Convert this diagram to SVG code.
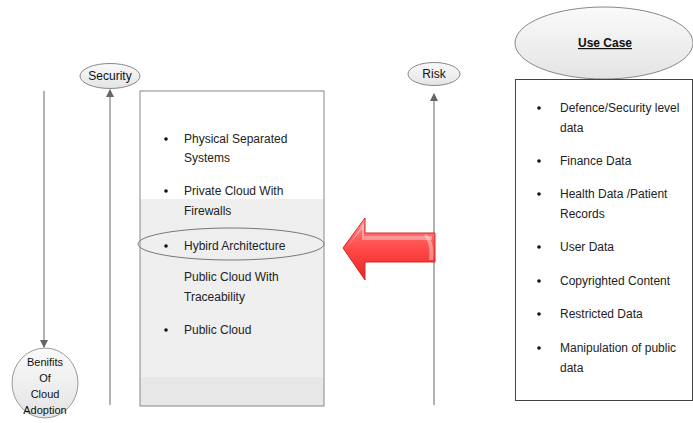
<svg xmlns="http://www.w3.org/2000/svg" width="693" height="423" viewBox="0 0 693 423">
<style>
  .t{font-family:"Liberation Sans",Arial,sans-serif;font-size:12px;fill:#222}
  .lbl{font-family:"Liberation Sans",Arial,sans-serif;font-size:12px;fill:#111;text-anchor:middle}
  .sm{font-size:11px}
  .conn{stroke:#666;stroke-width:1;fill:none}
  .dot{fill:#111}
</style>
<defs>
  <marker id="ah" markerWidth="8" markerHeight="8" refX="7" refY="4" orient="auto" markerUnits="userSpaceOnUse">
    <path d="M0,0 L8,4 L0,8 Z" fill="#666"/>
  </marker>
  <linearGradient id="ovg" x1="0" y1="0" x2="0" y2="1">
    <stop offset="0" stop-color="#fafafa"/>
    <stop offset="1" stop-color="#e4e4e4"/>
  </linearGradient>
  <linearGradient id="red" x1="0" y1="0" x2="0" y2="1">
    <stop offset="0" stop-color="#ff9a9a"/>
    <stop offset="0.35" stop-color="#ff5a5a"/>
    <stop offset="0.55" stop-color="#ff4444"/>
    <stop offset="1" stop-color="#e52626"/>
  </linearGradient>
</defs>

<g id="connectors">
  <line class="conn" x1="44" y1="91" x2="44" y2="347" marker-end="url(#ah)"/>
  <line class="conn" x1="110" y1="405" x2="110" y2="90" marker-end="url(#ah)"/>
  <line class="conn" x1="434" y1="405" x2="434" y2="94" marker-end="url(#ah)"/>
</g>

<g id="security">
  <ellipse cx="110" cy="76" rx="30" ry="12.5" fill="url(#ovg)" stroke="#888"/>
  <text class="lbl" x="110" y="80">Security</text>
</g>

<g id="risk">
  <ellipse cx="434" cy="74" rx="26" ry="11.5" fill="url(#ovg)" stroke="#888"/>
  <text class="lbl" x="434" y="78">Risk</text>
</g>

<g id="benefits">
  <ellipse cx="45" cy="383" rx="33" ry="35" fill="url(#ovg)" stroke="#999"/>
  <text class="lbl sm" x="45" y="366">Benifits</text>
  <text class="lbl sm" x="45" y="382">Of</text>
  <text class="lbl sm" x="45" y="398">Cloud</text>
  <text class="lbl sm" x="45" y="414">Adoption</text>
</g>

<g id="security-levels">
  <rect x="140" y="91" width="184" height="315" fill="#ffffff"/>
  <rect x="140" y="199" width="184" height="178" fill="#efefef"/>
  <rect x="140" y="377" width="184" height="29" fill="#e7e7e7"/>
  <rect x="140" y="91" width="184" height="315" fill="none" stroke="#888"/>
  <circle class="dot" cx="166" cy="139" r="1.8"/>
  <text class="t" x="184" y="143">Physical Separated</text>
  <text class="t" x="184" y="162">Systems</text>
  <circle class="dot" cx="166" cy="191" r="1.8"/>
  <text class="t" x="184" y="195">Private Cloud With</text>
  <text class="t" x="184" y="215">Firewalls</text>
  <circle class="dot" cx="166" cy="246" r="1.8"/>
  <text class="t" x="184" y="250">Hybird Architecture</text>
  <text class="t" x="184" y="281">Public Cloud With</text>
  <text class="t" x="184" y="301">Traceability</text>
  <circle class="dot" cx="166" cy="330" r="1.8"/>
  <text class="t" x="184" y="334">Public Cloud</text>
</g>

<g id="hybrid-highlight">
  <ellipse cx="231" cy="244" rx="93" ry="16" fill="none" stroke="#777"/>
</g>

<g id="red-arrow">
  <path d="M343,248 L365,218 L365,233 L435,233 L435,262 L365,262 L365,280 Z" fill="url(#red)" stroke="#d02a2a" stroke-width="1"/>
  <path d="M347,247 L364,223 L364,236 L432,236 L432,240 L362,240 L362,229 Z" fill="#ffffff" opacity="0.35"/>
  <path d="M426,234 Q435,240 433,260 L429,260 Q431,243 424,236 Z" fill="#ffffff" opacity="0.4"/>
</g>

<g id="use-case">
  <ellipse cx="604" cy="43" rx="89" ry="36" fill="url(#ovg)" stroke="#888"/>
  <text x="605" y="47" text-anchor="middle" font-family="'Liberation Sans',Arial,sans-serif" font-size="12" font-weight="bold" text-decoration="underline" fill="#111">Use Case</text>
</g>

<g id="use-case-list">
  <rect x="515.5" y="79.5" width="177" height="321" fill="#ffffff" stroke="#444"/>
  <circle class="dot" cx="539" cy="108" r="1.8"/>
  <text class="t" x="560" y="112">Defence/Security level</text>
  <text class="t" x="560" y="132">data</text>
  <circle class="dot" cx="539" cy="161" r="1.8"/>
  <text class="t" x="560" y="165">Finance Data</text>
  <circle class="dot" cx="539" cy="194" r="1.8"/>
  <text class="t" x="560" y="198">Health Data /Patient</text>
  <text class="t" x="560" y="218">Records</text>
  <circle class="dot" cx="539" cy="247" r="1.8"/>
  <text class="t" x="560" y="251">User Data</text>
  <circle class="dot" cx="539" cy="281" r="1.8"/>
  <text class="t" x="560" y="285">Copyrighted Content</text>
  <circle class="dot" cx="539" cy="314" r="1.8"/>
  <text class="t" x="560" y="318">Restricted Data</text>
  <circle class="dot" cx="539" cy="348" r="1.8"/>
  <text class="t" x="560" y="352">Manipulation of public</text>
  <text class="t" x="560" y="372">data</text>
</g>
</svg>
